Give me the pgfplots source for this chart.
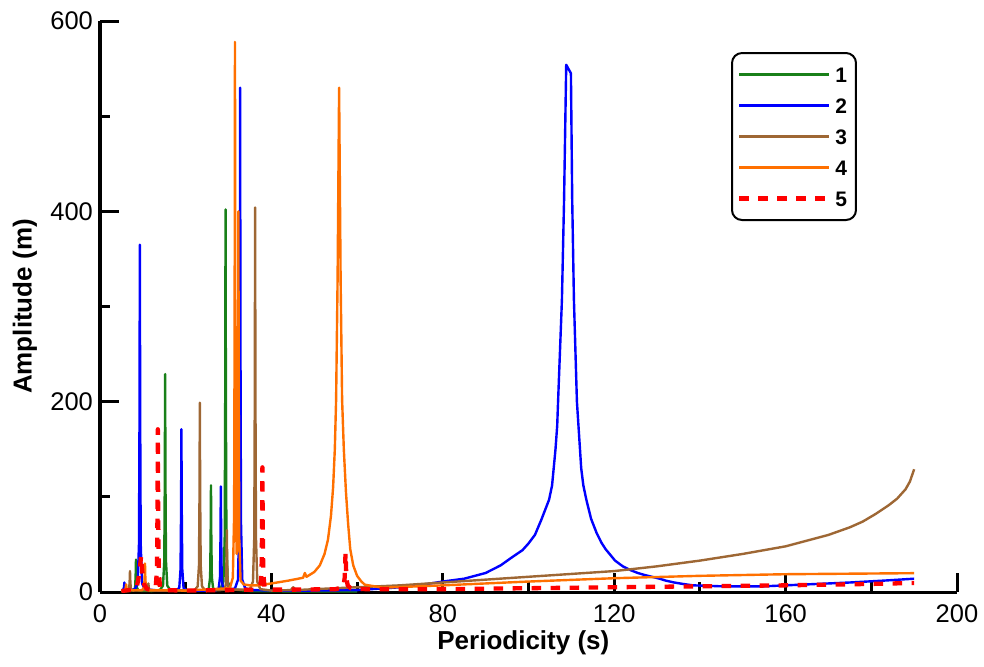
\documentclass[border=0pt]{standalone}
\usepackage{fontspec}
\setmainfont{Liberation Sans}
\usepackage{pgfplots}
\pgfplotsset{compat=1.18}
\definecolor{cgreen}{RGB}{25,128,25}
\definecolor{cblue}{RGB}{0,0,255}
\definecolor{cbrown}{RGB}{158,103,52}
\definecolor{corange}{RGB}{255,112,0}
\definecolor{cred}{RGB}{255,0,0}
\begin{document}
\begin{tikzpicture}
\begin{axis}[
  name=ax, at={(0,0)}, anchor=south west,
  width=428.5pt, height=285.5pt, scale only axis,
  xmin=0, xmax=200, ymin=0, ymax=600,
  axis x line*=bottom, axis y line*=left,
  axis line style={line width=1.5pt,-},
  xtick={0,40,...,200}, minor xtick={20,60,...,180},
  ytick={0,200,400,600}, minor ytick={100,300,500},
  tick align=inside,
  major tick length=9.5pt, minor tick length=5pt,
  every tick/.style={black,line width=1.5pt},
  tick label style={font=\fontsize{12.75}{15}\selectfont},
  /pgf/number format/assume math mode=true,
  xticklabel style={yshift=-3pt},
  xlabel={Periodicity (s)}, ylabel={Amplitude (m)},
  label style={font=\fontsize{13}{15}\selectfont\bfseries},
  x label style={at={(axis description cs:0.494,-0.089)}, anchor=center},
  y label style={at={(axis description cs:-0.0875,0.5)}, anchor=center},
  legend style={at={(0.8833,0.9457)}, anchor=north east, draw=black, line width=1pt,
    rounded corners=5pt, fill=white, font=\fontsize{10.5}{12}\selectfont\bfseries,
    inner xsep=2.5pt, inner ysep=6pt, row sep=6pt,
    nodes={inner xsep=2pt, inner ysep=1pt, text height=7.5pt, text depth=0pt}},
  legend cell align=left,
  legend image code/.code={\draw[#1] (0pt,0pt) -- (45pt,0pt);},
  every axis plot/.append style={line join=round},
]
\addplot[cgreen, line width=1.2pt] coordinates {
(5,0.5)(7.2,1.2)(7.9,1.9)(8.2,4.8)(8.32,17)(8.4,34)(8.48,17)(8.6,4.8)(8.9,1.9)(9.6,1.2)(12,1)
(14.0,2.1)(14.7,6.7)(15.0,32)(15.12,115)(15.2,229)(15.28,115)(15.4,32)(15.7,6.7)(16.4,2.1)(20,1.2)
(24.7,1.6)(25.4,3.8)(25.7,15.7)(25.82,56)(25.9,112)(25.98,56)(26.1,15.7)(26.4,3.8)(27.1,2)
(28.1,3)(28.8,11)(29.1,56)(29.22,201)(29.3,402)(29.38,201)(29.5,56)(29.8,11)(30.5,3)
(35,1)(40,0.8)(50,0.6)(60,0.5)};
\addlegendentry{1}
\addplot[cblue, line width=1.2pt] coordinates {
(5,1)(5.4,2)(5.6,5)(5.7,10)(5.8,5)(6.0,2)(8.1,2.8)(8.8,9)(9.1,51)(9.22,183)(9.3,365)(9.38,183)(9.5,51)(9.8,9)(10.5,2.8)
(14,1.5)(17.8,1.9)(18.5,4.3)(18.8,24)(18.92,86)(19.0,171)(19.08,86)(19.2,24)(19.5,4.3)(20.2,1.9)
(24,1.3)(27.0,1.6)(27.7,3.8)(28.0,15.5)(28.12,56)(28.2,111)(28.28,56)(28.4,15.5)(28.7,3.8)(29.4,1.8)
(31.5,3.7)(32.2,13)(32.5,74)(32.62,265)(32.7,530)(32.78,265)(32.9,74)(33.2,13)(33.9,3.7)
(36,2)(40,1.5)(50,1.5)(60,2)(65,3.5)(70,5)(75,7.5)(80,11)(85,14)(90,20)(93.5,28)(96,36)(98.6,44)(100,51)(101.5,60)(103,76)
(104.8,97)(105.5,112)(106.3,150)(106.7,175)(106.9,200)(107.8,307)(108.3,412)(108.8,554)(109.9,545)(110.2,412)(110.6,307)(111.3,200)
(112.3,130)(112.8,112)(113.5,97)(114.6,77)(115.9,62)(117,52)(118,45)(120.2,33)(122,27)(123.8,23)(125.5,20)(127,18)(130.6,14)(132,12)(134,10)(136,8.5)(138.4,7)
(145,6)(155,6)(165,8)(175,10)(183,12)(190,14)};
\addlegendentry{2}
\addplot[cbrown, line width=1.2pt] coordinates {
(5,1)(6.3,1.5)(6.8,3)(6.92,11)(7.0,22)(7.08,11)(7.2,3)(7.7,1.5)(11.0,2)(11.22,4.5)(11.3,9)(11.38,4.5)(11.6,2)
(16,1.5)(22.1,2)(22.8,6)(23.1,28)(23.22,100)(23.3,199)(23.38,100)(23.5,28)(23.8,6)(24.5,2)
(28,2)(29.1,2.6)(29.4,9)(29.52,33)(29.6,65)(29.68,33)(29.8,9)(30.1,2.6)
(33,2.5)(35.0,3)(35.7,11)(36.0,57)(36.12,202)(36.2,404)(36.28,202)(36.4,57)(36.7,11)(37.4,3)
(40,1.5)(44.5,2)(45.1,5)(45.7,2)(50,3)(60,5)(70,7)(80,10)(90,13)(100,16)(110,19)(120,22)(130,27)
(140,33)(150,40)(160,48)(165,54)(170,60)(175,68)(178,74)(181,82)(184,91)(186,98)(188,108)(189,116)(190,129)};
\addlegendentry{3}
\addplot[corange, line width=1.2pt] coordinates {
(5,1)(5.8,2)(6.0,4)(6.1,8)(6.2,4)(6.4,2)(9.8,1.8)(10.3,5)(10.42,15)(10.5,30)(10.58,15)(10.7,5)(11.2,1.8)
(20,1.5)(30.3,4)(31.0,15)(31.3,81)(31.42,289)(31.5,578)(31.58,289)(31.7,85)(31.9,40)(32.1,60)(32.22,200)(32.3,400)
(32.38,200)(32.5,56)(32.8,12)(33.5,8)(35,7)(37,7)(40,9)(44,12)(47.4,15)(47.8,20)(48.2,16)(50,21)(51.3,28)
(52.4,40)(53.2,55)(53.9,80)(54.4,110)(54.8,150)(55.1,202)(55.45,330)(55.8,530)(56.15,330)(56.5,202)(56.9,150)(57.4,105)
(57.9,72)(58.4,45)(59.1,28)(60,17)(61,11)(61.8,7.7)(66,4.5)(80,7)(100,11)(120,14.5)(140,17)(160,18.7)(190,19.8)};
\addlegendentry{4}
\addplot[cred, line width=2.15pt, dash pattern=on 4.75pt off 4.75pt] coordinates {
(5,1)(8.5,3)(9.0,15)(9.3,25)(9.6,38)(9.9,20)(10.3,8)(11,3)(12.3,2)(13.0,5)(13.3,24)(13.42,85)(13.5,171)
(13.58,85)(13.7,24)(14.0,5)(14.7,2)(20,1.5)(30,2)(36.7,2.5)(37.4,5)(37.7,20)(37.82,66)(37.9,131)(37.98,66)
(38.1,20)(38.4,5)(39.1,2.5)(45,2.5)(55,3)(56.8,5)(57.1,15)(57.3,41)(57.5,15)(57.8,7)(58.5,4)(62,3)
(80,3)(100,4)(120,5)(140,6)(160,7)(180,8.5)(190,9.5)};
\addlegendentry{5}
\end{axis}
\pgfresetboundingbox
\path (-50pt,-37pt) rectangle (442pt,296pt);
\end{tikzpicture}
\end{document}
